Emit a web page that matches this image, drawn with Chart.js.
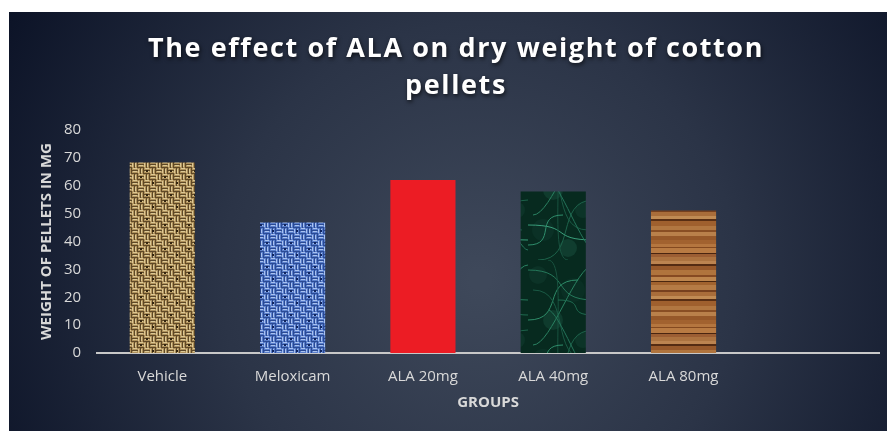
<!DOCTYPE html>
<html>
<head>
<meta charset="utf-8">
<script src="https://cdn.jsdelivr.net/npm/chart.js@4/dist/chart.umd.min.js"></script>
<style>
  html, body { margin: 0; padding: 0; background: #ffffff; }
  #wrap { width: 887px; height: 431px; }
</style>
</head>
<body>
<div id="wrap"><canvas id="chart"></canvas></div>
<script>
// chart data
const groups = ['Vehicle', 'Meloxicam', 'ALA 20mg', 'ALA 40mg', 'ALA 80mg', ''];
const pelletWeight = [68.3, 46.8, 62.1, 57.9, 51.1, null];
const yTicks = [0, 10, 20, 30, 40, 50, 60, 70, 80];
const titleLines = ['The effect of ALA on dry weight of cotton', 'pellets'];
const xTitle = 'GROUPS';
const yTitle = 'WEIGHT OF PELLETS IN MG';

// texture helpers
function makePattern(w, h, draw) {
    const c = document.createElement('canvas');
    c.width = w;
    c.height = h;
    const g = c.getContext('2d');
    draw(g, w, h);
    return g.createPattern(c, 'repeat');
}

// basket weave: blocks of two strands, direction alternating like a checkerboard
function weave(base, dark, light, shine) {
    const s = 3, block = 6;
    return makePattern(block * 4, block * 4, (g, w, h) => {
        g.fillStyle = base;
        g.fillRect(0, 0, w, h);
        for (let i = 0; i < 4; i++) {
            for (let j = 0; j < 4; j++) {
                const x = i * block, y = j * block;
                const horiz = (i + j) % 2 === 0;
                for (let k = 0; k < 2; k++) {
                    g.fillStyle = light;
                    if (horiz) {
                        g.fillRect(x, y + k * s, block, s - 1);
                        g.fillStyle = shine;
                        g.fillRect(x + 1, y + k * s, block - 2, 1);
                    } else {
                        g.fillRect(x + k * s, y, s - 1, block);
                        g.fillStyle = shine;
                        g.fillRect(x + k * s, y + 1, 1, block - 2);
                    }
                }
                if ((i * 3 + j) % 5 === 0) {
                    g.fillStyle = dark;
                    g.fillRect(x + 2, y + 2, 2, 2);
                }
            }
        }
    });
}

const burlap = weave('#5e4826', '#34250f', '#b0925c', '#dcc894');
const denim = weave('#2a4a94', '#10255f', '#5a7fcc', '#a9c2ef');

const marble = makePattern(66, 130, (g, w, h) => {
    g.fillStyle = '#072a1f';
    g.fillRect(0, 0, w, h);
    const blotches = [
        [10, 15, 9, '#0c3327'], [45, 30, 12, '#0a2f24'], [25, 60, 10, '#0f3b2d'],
        [55, 80, 8, '#0c3428'], [15, 100, 11, '#0b3126'], [40, 118, 9, '#103d2f']
    ];
    blotches.forEach(b => {
        g.fillStyle = b[3];
        g.beginPath();
        g.arc(b[0], b[1], b[2], 0, Math.PI * 2);
        g.fill();
    });
    g.lineWidth = 1;
    const veins = [
        [0, 10, 66, 40, '#25785a'], [0, 60, 50, 20, '#2e8c69'], [10, 130, 66, 70, '#1d634b'],
        [0, 95, 66, 110, '#3a9e7b'], [20, 0, 40, 130, '#18523f'], [66, 5, 5, 85, '#2a8262'],
        [30, 40, 66, 55, '#1f6a50'], [0, 115, 35, 85, '#2f8e6c'], [5, 30, 60, 100, '#1a5a45'],
        [66, 120, 20, 50, '#24745a']
    ];
    veins.forEach(v => {
        g.strokeStyle = v[4];
        g.beginPath();
        g.moveTo(v[0], v[1]);
        g.bezierCurveTo((v[0] + v[2]) / 2 + 12, v[1], (v[0] + v[2]) / 2 - 12, v[3], v[2], v[3]);
        g.stroke();
    });
});

const woodStripes = [
    ['#a2622f', 4], ['#b5763f', 3], ['#84491f', 1], ['#b97b43', 5], ['#4a2510', 1],
    ['#9c5e33', 3], ['#ad7340', 4], ['#bd8450', 3], ['#552b12', 2], ['#98592b', 4],
    ['#b0743d', 5], ['#864a22', 2], ['#bd854d', 4], ['#4b270f', 1], ['#a1632f', 3],
    ['#b57b45', 5], ['#76401e', 2], ['#a96d3a', 4], ['#c08b54', 3], ['#582e13', 2],
    ['#9f602e', 5], ['#b17741', 4], ['#894e24', 2], ['#b9804b', 4], ['#96582a', 4]
];
const woodHeight = woodStripes.reduce((a, s) => a + s[1], 0);
const wood = makePattern(66, woodHeight, (g, w, h) => {
    let y = 0;
    woodStripes.forEach(s => {
        g.fillStyle = s[0];
        g.fillRect(0, y, w, s[1]);
        y += s[1];
    });
});

const barFills = [burlap, denim, '#ec1c24', marble, wood, 'rgba(0,0,0,0)'];

const backdrop = {
    id: 'backdrop',
    beforeDraw(chart) {
        const ctx = chart.ctx;
        const w = chart.width, h = chart.height;
        ctx.save();
        ctx.fillStyle = '#ffffff';
        ctx.fillRect(0, 0, w, h);
        const grad = ctx.createRadialGradient(480, 280, 10, 480, 280, 560);
        grad.addColorStop(0, '#3e485a');
        grad.addColorStop(0.45, '#2b3447');
        grad.addColorStop(1, '#0a1125');
        ctx.fillStyle = grad;
        ctx.fillRect(9, 12, w - 9, h - 12);
        ctx.restore();
    }
};

const bigTitle = {
    id: 'bigTitle',
    afterDraw(chart) {
        const ctx = chart.ctx;
        ctx.save();
        ctx.font = 'bold 27px "Open Sans"';
        ctx.letterSpacing = '1.6px';
        ctx.fillStyle = '#ffffff';
        ctx.textAlign = 'center';
        ctx.textBaseline = 'alphabetic';
        ctx.shadowColor = 'rgba(0,0,0,0.7)';
        ctx.shadowBlur = 4;
        ctx.shadowOffsetX = 1;
        ctx.shadowOffsetY = 2;
        ctx.fillText(titleLines[0], 456, 57);
        ctx.fillText(titleLines[1], 456, 94);
        ctx.restore();
    }
};

const ctx = document.getElementById('chart').getContext('2d');
new Chart(ctx, {
    type: 'bar',
    data: {
        labels: groups,
        datasets: [{
            label: 'Weight',
            data: pelletWeight,
            backgroundColor: barFills,
            borderWidth: 0,
            barPercentage: 0.5,
            categoryPercentage: 1
        }]
    },
    options: {
        responsive: true,
        maintainAspectRatio: false,
        animation: false,
        layout: {
            padding: { top: 130, left: 38, right: 8, bottom: 19 }
        },
        plugins: {
            legend: { display: false },
            tooltip: { enabled: false }
        },
        scales: {
            x: {
                grid: { display: false },
                border: { display: true, color: '#c8c8c8', width: 2, dash: [2, 1] },
                ticks: {
                    color: '#d9d9d9',
                    font: { family: '"Open Sans"', size: 15 },
                    padding: 7
                },
                title: {
                    display: true,
                    text: xTitle,
                    color: '#d9d9d9',
                    font: { family: '"Open Sans"', size: 15, weight: 'bold' },
                    padding: { top: 1, bottom: 0 }
                }
            },
            y: {
                min: 0,
                max: 80,
                afterBuildTicks: axis => {
                    axis.ticks = yTicks.map(v => ({ value: v }));
                },
                grid: { display: false, drawTicks: false },
                border: { display: false },
                ticks: {
                    color: '#d9d9d9',
                    font: { family: '"Open Sans"', size: 15 },
                    padding: 16
                },
                title: {
                    display: true,
                    text: yTitle,
                    color: '#d9d9d9',
                    font: { family: '"Open Sans"', size: 15, weight: 'bold' },
                    padding: { top: 0, bottom: -8 }
                }
            }
        }
    },
    plugins: [backdrop, bigTitle]
});
</script>
</body>
</html>
